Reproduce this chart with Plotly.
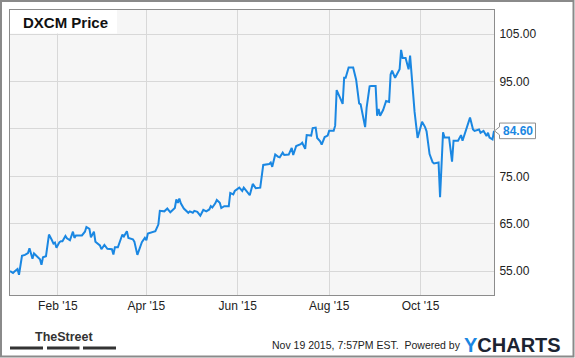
import plotly.graph_objects as go

title_text = "DXCM Price"
dates = [
    "2014-12-31", "2015-01-02", "2015-01-03", "2015-01-05", "2015-01-06", "2015-01-08", "2015-01-10",
    "2015-01-12", "2015-01-13", "2015-01-15", "2015-01-16", "2015-01-18", "2015-01-20", "2015-01-21",
    "2015-01-22", "2015-01-24", "2015-01-26", "2015-01-28", "2015-01-29", "2015-01-30", "2015-01-31",
    "2015-02-02", "2015-02-03", "2015-02-04", "2015-02-06", "2015-02-07", "2015-02-09", "2015-02-11",
    "2015-02-12", "2015-02-13", "2015-02-15", "2015-02-17", "2015-02-19", "2015-02-20", "2015-02-22",
    "2015-02-23", "2015-02-25", "2015-02-26", "2015-03-01", "2015-03-02", "2015-03-04", "2015-03-06",
    "2015-03-09", "2015-03-10", "2015-03-11", "2015-03-13", "2015-03-16", "2015-03-17", "2015-03-19",
    "2015-03-20", "2015-03-23", "2015-03-24", "2015-03-26", "2015-03-28", "2015-03-29", "2015-03-31",
    "2015-04-01", "2015-04-02", "2015-04-05", "2015-04-07", "2015-04-09", "2015-04-10", "2015-04-13",
    "2015-04-15", "2015-04-17", "2015-04-20", "2015-04-21", "2015-04-22", "2015-04-23", "2015-04-24",
    "2015-04-26", "2015-04-28", "2015-04-29", "2015-04-30", "2015-05-02", "2015-05-03", "2015-05-05",
    "2015-05-07", "2015-05-09", "2015-05-11", "2015-05-13", "2015-05-14", "2015-05-15", "2015-05-17",
    "2015-05-18", "2015-05-20", "2015-05-21", "2015-05-23", "2015-05-26", "2015-05-27", "2015-05-29",
    "2015-05-30", "2015-06-02", "2015-06-04", "2015-06-05", "2015-06-07", "2015-06-09", "2015-06-11",
    "2015-06-13", "2015-06-16", "2015-06-18", "2015-06-22", "2015-06-23", "2015-06-24", "2015-06-26",
    "2015-06-28", "2015-06-29", "2015-07-01", "2015-07-02", "2015-07-05", "2015-07-07", "2015-07-08",
    "2015-07-10", "2015-07-13", "2015-07-14", "2015-07-16", "2015-07-17", "2015-07-20", "2015-07-21",
    "2015-07-23", "2015-07-24", "2015-07-26", "2015-07-27", "2015-07-29", "2015-07-31", "2015-08-01",
    "2015-08-04", "2015-08-05", "2015-08-06", "2015-08-08", "2015-08-10", "2015-08-11", "2015-08-12",
    "2015-08-14", "2015-08-17", "2015-08-19", "2015-08-21", "2015-08-22", "2015-08-25", "2015-08-26",
    "2015-08-28", "2015-08-29", "2015-09-01", "2015-09-02", "2015-09-03", "2015-09-04", "2015-09-06",
    "2015-09-08", "2015-09-10", "2015-09-11", "2015-09-12", "2015-09-14", "2015-09-16", "2015-09-17",
    "2015-09-18", "2015-09-19", "2015-09-21", "2015-09-23", "2015-09-24", "2015-09-26", "2015-09-27",
    "2015-09-29", "2015-10-01", "2015-10-02", "2015-10-04", "2015-10-05", "2015-10-07", "2015-10-09",
    "2015-10-10", "2015-10-12", "2015-10-13", "2015-10-14", "2015-10-16", "2015-10-17", "2015-10-20",
    "2015-10-22", "2015-10-23", "2015-10-26", "2015-10-28", "2015-10-29", "2015-10-31", "2015-11-02",
    "2015-11-03", "2015-11-05", "2015-11-06", "2015-11-09", "2015-11-10", "2015-11-12", "2015-11-14",
    "2015-11-15", "2015-11-16", "2015-11-18", "2015-11-19",
]
prices = [
    55.0, 54.6, 54.9, 55.4, 54.2, 58.2, 58.4,
    58.8, 59.8, 57.6, 58.7, 58.0, 57.5, 56.3,
    57.9, 58.1, 62.7, 61.5, 60.8, 61.0, 59.9,
    61.1, 61.3, 61.3, 62.4, 61.9, 61.5, 63.3,
    62.0, 62.5, 62.5, 62.5, 63.3, 64.3, 63.9,
    62.1, 63.3, 61.2, 60.4, 59.6, 60.5, 59.7,
    59.6, 58.5, 60.0, 60.0, 62.7, 62.3, 63.4,
    62.0, 61.7, 61.2, 58.4, 60.3, 61.1, 62.0,
    61.5, 62.9, 63.2, 63.4, 64.8, 67.7, 67.6,
    68.2, 67.4, 68.3, 70.1, 69.4, 70.3, 69.3,
    68.2, 67.7, 67.3, 67.6, 67.3, 67.7, 67.5,
    66.7, 67.9, 67.6, 68.0, 68.7, 68.4, 69.3,
    70.0, 69.4, 68.3, 68.7, 68.7, 71.5, 71.2,
    71.9, 72.6, 71.9, 72.6, 71.8, 71.0, 73.4,
    72.5, 72.6, 77.4, 77.6, 77.9, 77.0, 79.6,
    79.1, 79.0, 80.0, 79.5, 79.6, 81.0, 79.5,
    81.4, 81.8, 82.1, 80.8, 83.7, 83.6, 85.2,
    85.3, 83.1, 82.4, 81.7, 83.3, 83.6, 84.6,
    84.6, 85.7, 93.2, 91.8, 90.3, 95.8, 95.8,
    98.0, 98.0, 95.4, 90.4, 90.2, 85.4, 89.5,
    94.0, 94.1, 94.1, 87.8, 89.2, 87.8, 89.0,
    90.9, 90.7, 96.5, 97.3, 95.8, 97.0, 97.6,
    101.7, 100.0, 100.0, 97.6, 100.5, 92.0, 88.6,
    83.1, 85.7, 86.5, 85.4, 84.5, 79.7, 78.0,
    77.7, 77.9, 77.9, 70.6, 84.3, 83.2, 83.2,
    78.1, 82.5, 82.5, 83.7, 82.5, 84.4, 86.7,
    87.4, 84.9, 84.6, 84.9, 84.2, 84.6, 83.5,
    84.2, 83.2, 82.8, 84.6,
]
y_ticks = [55, 65, 75, 85, 95, 105]
y_tick_text = ["55.00", "65.00", "75.00", "", "95.00", "105.00"]  # 85.00 hidden by last-price box
x_ticks = ["2015-02-01", "2015-04-01", "2015-06-01", "2015-08-01", "2015-10-01"]
footer_date = "Nov 19 2015, 7:57PM EST."
powered_by = "Powered by"

LINE = "#1a87e2"
W, H = 575, 358
L, R, T, B = 10, 81, 10, 63
PW, PH = W - L - R, H - T - B


def px(x):
    return (x - L) / PW


def py(y):
    return (H - B - y) / PH


y_range = [49.93, 110.13]
units_per_px = (y_range[1] - y_range[0]) / PH

fig = go.Figure()
fig.add_trace(go.Scatter(x=dates, y=prices, mode="lines",
                         line=dict(color=LINE, width=2), hoverinfo="skip",
                         showlegend=False))

last = prices[-1]
half = 7.8 * units_per_px
tip = 4.0 * units_per_px
bx0, bx1, tipx = px(499.5), px(535.5), px(494.5)
shapes = [
    # outer frame
    dict(type="rect", xref="paper", yref="paper", x0=px(1), x1=px(573.5),
         y0=py(356.5), y1=py(1), line=dict(color="#8a8a8a", width=2),
         fillcolor="rgba(0,0,0,0)", layer="above"),
    # title box
    dict(type="rect", xref="paper", yref="paper", x0=0, x1=px(117), y0=py(33.5), y1=1,
         line=dict(width=0), fillcolor="white", layer="above"),
    # last value label box with pointer
    dict(type="path", xref="paper", yref="y",
         path=(f"M {tipx},{last} L {bx0},{last + tip} L {bx0},{last + half} "
               f"L {bx1},{last + half} L {bx1},{last - half} L {bx0},{last - half} "
               f"L {bx0},{last - tip} Z"),
         line=dict(color="#8f8f8f", width=1), fillcolor="white", layer="above"),
]
for a, b in [(10, 43), (47, 79.5), (83, 116)]:
    shapes.append(dict(type="rect", xref="paper", yref="paper", x0=px(a), x1=px(b),
                       y0=py(349.5), y1=py(346.5), line=dict(width=0),
                       fillcolor="#333333", layer="above"))

annotations = [
    dict(xref="paper", yref="paper", x=px(21), y=py(22.5), text=f"<b>{title_text}</b>",
         showarrow=False, xanchor="left", yanchor="middle",
         font=dict(family="Liberation Sans, Arial", size=15, color="#111111")),
    dict(xref="paper", yref="y", x=(bx0 + bx1) / 2, y=last, text=f"<b>{last:.2f}</b>",
         showarrow=False, xanchor="center", yanchor="middle",
         font=dict(family="Liberation Sans, Arial", size=12, color=LINE)),
    dict(xref="paper", yref="paper", x=px(63.5), y=py(336.5), text="<b>TheStreet</b>",
         showarrow=False, xanchor="center", yanchor="middle",
         font=dict(family="Liberation Sans Narrow, Liberation Sans, Arial", size=12.5,
                   color="#333333")),
    dict(xref="paper", yref="paper", x=px(270), y=py(345.5),
         text=f"{footer_date}  {powered_by}",
         showarrow=False, xanchor="left", yanchor="middle",
         font=dict(family="Liberation Sans, Arial", size=10.5, color="#222222")),
    dict(xref="paper", yref="paper", x=px(462), y=py(344.5),
         text="<b><span style='color:#1a87e2'>Y</span>CHARTS</b>",
         showarrow=False, xanchor="left", yanchor="middle",
         font=dict(family="Liberation Sans, Arial", size=20, color="#1c2331")),
]

fig.update_layout(
    width=W, height=H,
    margin=dict(l=L, r=R, t=T, b=B, pad=0),
    paper_bgcolor="white", plot_bgcolor="#f6f6f6",
    font=dict(family="Liberation Sans, Arial", size=12, color="#222222"),
    shapes=shapes, annotations=annotations,
    xaxis=dict(type="date", range=[dates[0], dates[-1]], tickvals=x_ticks,
               tickformat="%b '%y", showgrid=True, gridcolor="#d8d8d8", gridwidth=1,
               showline=True, linecolor="#8c8c8c", linewidth=1, mirror=True,
               ticks="", zeroline=False, fixedrange=True),
    yaxis=dict(range=y_range, side="right", tickvals=y_ticks, ticktext=y_tick_text,
               showgrid=True, gridcolor="#d8d8d8", gridwidth=1,
               showline=True, linecolor="#8c8c8c", linewidth=1, mirror=True,
               ticks="", ticklabelstandoff=2, zeroline=False, fixedrange=True),
)

fig.write_html("out.html", config={"displayModeBar": False},
               post_script="document.body.style.margin='0';document.body.style.overflow='hidden';")
